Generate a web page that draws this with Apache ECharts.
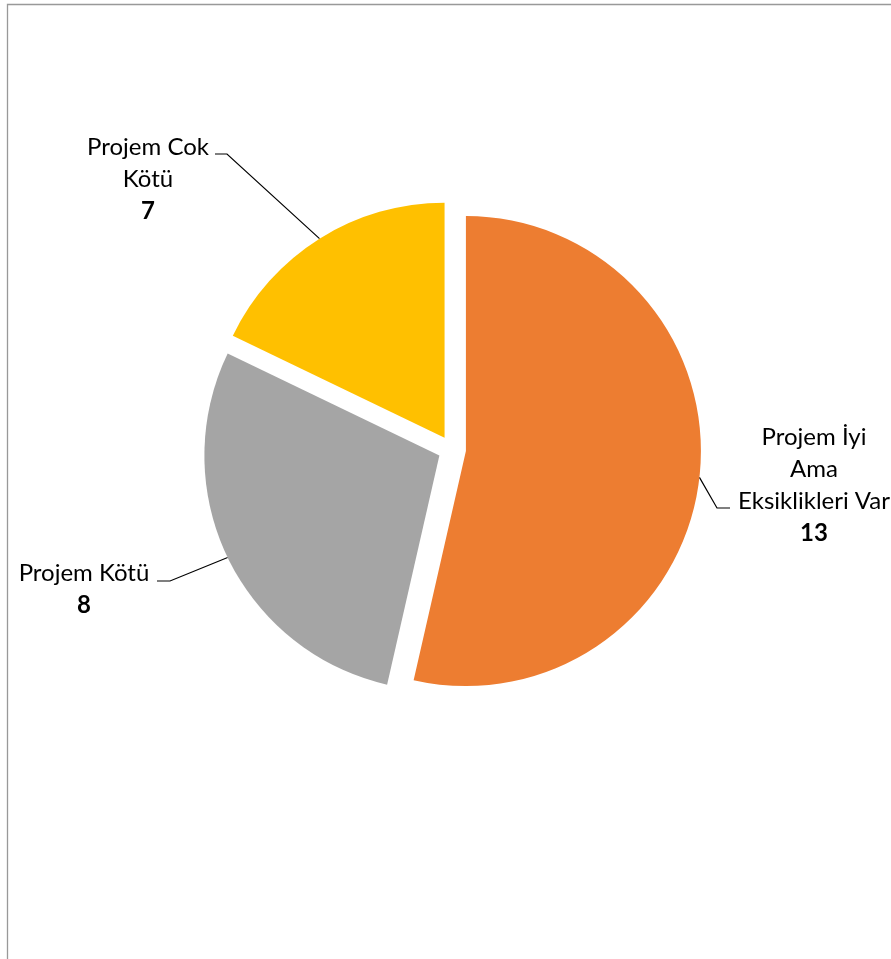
<!DOCTYPE html>
<html>
<head>
<meta charset="utf-8">
<script src="https://cdn.jsdelivr.net/npm/echarts@6/dist/echarts.min.js"></script>
<style>
  html, body { margin: 0; padding: 0; background: #ffffff; }
  #chart { width: 891px; height: 959px; }
</style>
</head>
<body>
<div id="chart"></div>
<script>
// ---- data ----
const categories = ['Projem İyi Ama Eksiklikleri Var', 'Projem Kötü', 'Projem Cok Kötü'];
const labelLines = [['Projem İyi', 'Ama', 'Eksiklikleri Var'], ['Projem Kötü'], ['Projem Cok', 'Kötü']];
const labelValues = [13, 8, 7];          // values printed in the data labels
const sliceValues = [15, 8, 5];          // slice proportions as drawn

// ---- style / layout ----
const colors = ['#ED7D31', '#A5A5A5', '#FFC000'];
const baseCenter = [452, 449.5];
const pieRadius = 235;
const explode = 14;
const fontFamily = 'Lato, "Open Sans", sans-serif';
const fontSize = 24;
const lineH = 32;
// label block placement (top-center of block) and leader-line elbow / end
const labelPlace = [
  { x: 814, y: 421, elbow: [717, 508], end: [730, 508] },
  { x: 84,  y: 557, elbow: [170, 581], end: [157, 581] },
  { x: 148, y: 131, elbow: [227, 154], end: [215, 154] }
];

const total = sliceValues.reduce((a, b) => a + b, 0);
const midAngles = [];
let acc = 0;
sliceValues.forEach(v => { midAngles.push((acc + v / 2) / total * 2 * Math.PI); acc += v; });

const rich = {
  t: { fontFamily, fontSize, lineHeight: lineH, color: '#000', align: 'center' },
  v: { fontFamily, fontSize, lineHeight: lineH, color: '#000', fontWeight: 'bold', align: 'center' }
};

const series = categories.map((cat, i) => {
  const a = midAngles[i];
  const center = [baseCenter[0] + explode * Math.sin(a), baseCenter[1] - explode * Math.cos(a)];
  return {
    type: 'pie',
    silent: true,
    animation: false,
    startAngle: 90,
    clockwise: true,
    center: center,
    radius: pieRadius,
    avoidLabelOverlap: false,
    emphasis: { disabled: true },
    data: categories.map((c, j) => ({
      name: c,
      value: sliceValues[j],
      itemStyle: { color: j === i ? colors[j] : 'rgba(0,0,0,0)' },
      label: { show: j === i },
      labelLine: { show: j === i }
    })),
    label: {
      position: 'outside',
      formatter: function (p) {
        const k = p.dataIndex;
        return labelLines[k].map(s => '{t|' + s + '}').join('\n') + '\n{v|' + labelValues[k] + '}';
      },
      rich: rich
    },
    labelLine: { show: true, lineStyle: { color: '#000', width: 1.2 } },
    labelLayout: function (params) {
      const k = params.dataIndex;
      const pl = labelPlace[k];
      let p0;
      if (params.labelLinePoints && params.labelLinePoints.length) {
        p0 = params.labelLinePoints[0];
      } else {
        p0 = [center[0] + pieRadius * Math.sin(midAngles[k]), center[1] - pieRadius * Math.cos(midAngles[k])];
      }
      return {
        x: pl.x, y: pl.y, align: 'center', verticalAlign: 'top',
        labelLinePoints: [[p0[0], p0[1]], pl.elbow, pl.end]
      };
    }
  };
});

const chart = echarts.init(document.getElementById('chart'), null, { renderer: 'canvas' });
chart.setOption({
  backgroundColor: '#ffffff',
  animation: false,
  graphic: [{
    type: 'rect', silent: true, z: 100,
    shape: { x: 7.5, y: 4.5, width: 1000, height: 1000 },
    style: { fill: 'none', stroke: '#999999', lineWidth: 1.3 }
  }],
  series: series
});
</script>
</body>
</html>
